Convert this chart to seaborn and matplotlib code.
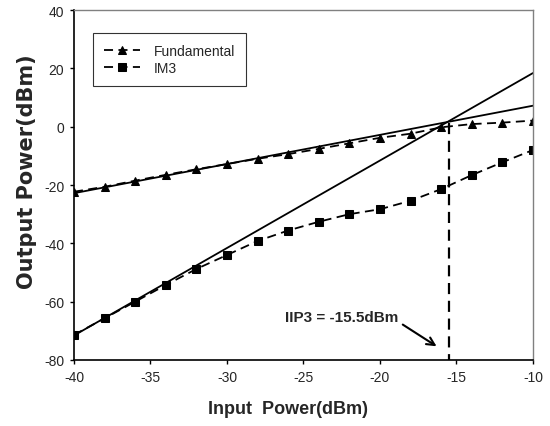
import matplotlib
matplotlib.use("Agg")
import matplotlib.pyplot as plt
import seaborn as sns
import pandas as pd
from matplotlib import font_manager

# ---- data ----
input_power = [-40, -38, -36, -34, -32, -30, -28, -26, -24, -22, -20, -18, -16, -14, -12, -10]
fundamental = [-22.3, -20.6, -18.5, -16.5, -14.6, -12.8, -11.0, -9.4, -7.6, -5.7, -3.8, -2.4, -0.2, 0.9, 1.4, 2.1]
im3 = [-71.4, -65.7, -60.0, -54.3, -48.8, -44.0, -39.2, -35.6, -32.6, -30.0, -28.3, -25.4, -21.4, -16.6, -12.2, -8.0]
fit_x = [-40, -10]
fund_fit_y = [-22.8, 7.2]
im3_fit_y = [-71.6, 18.4]
iip3_x = [-15.5, -15.5]
iip3_y = [1.3, -80]
x_ticks = [-40, -35, -30, -25, -20, -15, -10]
y_ticks = [-80, -60, -40, -20, 0, 20, 40]
annot_text = "IIP3 = -15.5dBm"

sns.set_theme(style="white")
avail = {f.name for f in font_manager.fontManager.ttflist}
narrow = "Liberation Sans Narrow" if "Liberation Sans Narrow" in avail else "Liberation Sans"
plt.rcParams["font.family"] = [narrow, "DejaVu Sans"]
plt.rcParams["axes.unicode_minus"] = False

fig = plt.figure(figsize=(5.5, 4.27), dpi=100)
ax = fig.add_axes([0.1345, 0.1546, 0.8345, 0.8195])

df = pd.DataFrame({"x": input_power, "Fundamental": fundamental, "IM3": im3})

sns.lineplot(data=df, x="x", y="Fundamental", ax=ax, color="black", lw=1.3,
             linestyle=(0, (5, 3)), marker="^", markersize=6, markeredgecolor="black",
             label="Fundamental")
sns.lineplot(data=df, x="x", y="IM3", ax=ax, color="black", lw=1.3,
             linestyle=(0, (5, 3)), marker="s", markersize=6, markeredgecolor="black",
             label="IM3")
sns.lineplot(x=fit_x, y=fund_fit_y, ax=ax, color="black", lw=1.3)
sns.lineplot(x=fit_x, y=im3_fit_y, ax=ax, color="black", lw=1.3)
sns.lineplot(x=iip3_x, y=iip3_y, ax=ax, color="black", lw=1.6, linestyle=(0, (5, 3)),
             estimator=None, sort=False, errorbar=None)

ax.annotate(annot_text, xy=(-16.3, -75.3), xytext=(-18.8, -65.2),
            ha="right", va="center", fontsize=11, fontweight="bold",
            family=["Liberation Sans", "DejaVu Sans"],
            arrowprops=dict(arrowstyle="->", color="black", lw=1.5, relpos=(1.0, 0.15),
                            shrinkA=1, shrinkB=0, mutation_scale=14))

ax.set_xlim(-40, -10)
ax.set_ylim(-80, 40)
ax.set_xticks(x_ticks)
ax.set_yticks(y_ticks)
ax.tick_params(axis="both", direction="out", length=3, width=1, color="black",
               labelsize=10, pad=4, left=True, bottom=True)
for lab in ax.get_xticklabels() + ax.get_yticklabels():
    lab.set_fontfamily([narrow, "DejaVu Sans"])

ax.set_xlabel("Input  Power(dBm)", fontsize=13, fontweight="bold",
              family=["Liberation Sans", "DejaVu Sans"])
ax.set_ylabel("Output Power(dBm)", fontsize=15, fontweight="bold",
              family=["DejaVu Sans"])
ax.xaxis.set_label_coords(0.466, -0.115)
ax.yaxis.set_label_coords(-0.08, 0.54)

for s in ["left", "bottom"]:
    ax.spines[s].set_color("black")
    ax.spines[s].set_linewidth(1.2)
for s in ["top", "right"]:
    ax.spines[s].set_color("#808080")
    ax.spines[s].set_linewidth(1.0)

leg = ax.legend(loc="upper left", bbox_to_anchor=(0.041, 0.934), borderaxespad=0,
                frameon=True, fancybox=False, edgecolor="black", fontsize=10,
                handlelength=2.6, borderpad=0.8, labelspacing=0.2, handletextpad=1.0)
leg.get_frame().set_linewidth(0.8)

fig.savefig("out.png", dpi=100)
